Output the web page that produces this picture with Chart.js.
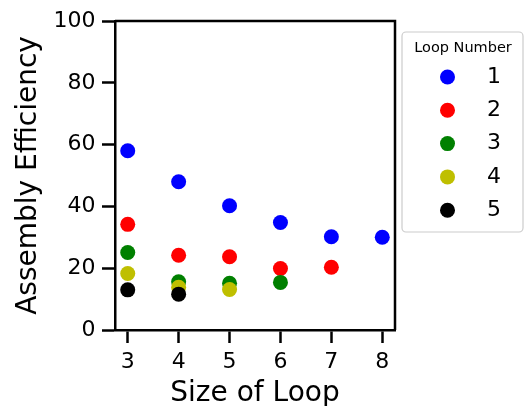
<!DOCTYPE html>
<html lang="en">
<head>
    <meta charset="UTF-8">
    <title>Assembly Efficiency vs Size of Loop</title>
    <script src="https://cdn.jsdelivr.net/npm/chart.js"></script>
    <style>
        body {
            margin: 0;
            background: white;
        }
        canvas {
            display: block;
        }
    </style>
</head>
<body>
    <canvas id="loopChart" width="525" height="406"></canvas>

    <script>
        // values
        const loopSizes = [3, 4, 5, 6, 7, 8];
        const loopNames = ['1', '2', '3', '4', '5'];
        const loopColors = ['#0000ff', '#ff0000', '#008000', '#bfbf00', '#000000'];
        const loop1 = [58.0, 48.0, 40.2, 34.8, 30.2, 30.0];
        const loop2 = [34.2, 24.2, 23.7, 19.9, 20.3];
        const loop3 = [25.1, 15.6, 15.1, 15.4];
        const loop4 = [18.3, 13.8, 13.1];
        const loop5 = [13.0, 11.6];
        const xTicks = [3, 4, 5, 6, 7, 8];
        const yTicks = [0, 20, 40, 60, 80, 100];

        const allLoops = [loop1, loop2, loop3, loop4, loop5];
        const font = 'DejaVu Sans';

        // top and right spines (chart.js only draws the axis borders)
        const frame = {
            id: 'frame',
            beforeDatasetsDraw(chart) {
                const { ctx, chartArea: a } = chart;
                ctx.save();
                ctx.strokeStyle = '#000';
                ctx.lineWidth = 2.5;
                ctx.beginPath();
                ctx.moveTo(a.left, a.top);
                ctx.lineTo(a.right, a.top);
                ctx.lineTo(a.right, a.bottom);
                ctx.stroke();
                ctx.restore();
            }
        };

        // matplotlib style legend box on the right
        const boxLegend = {
            id: 'boxLegend',
            afterDraw(chart) {
                const ctx = chart.ctx;
                const x0 = 402, y0 = 32, w = 121, h = 200;
                ctx.save();
                ctx.beginPath();
                ctx.roundRect(x0, y0, w, h, 4);
                ctx.fillStyle = 'rgba(255,255,255,0.8)';
                ctx.fill();
                ctx.strokeStyle = '#cccccc';
                ctx.lineWidth = 1.2;
                ctx.stroke();

                ctx.fillStyle = '#000';
                ctx.textBaseline = 'middle';
                ctx.textAlign = 'center';
                ctx.font = '14.5px "' + font + '"';
                ctx.fillText('Loop Number', 463, 48);

                chart.data.datasets.forEach((ds, i) => {
                    const cy = 77 + i * 33.3;
                    ctx.beginPath();
                    ctx.arc(447.5, cy, 7.5, 0, Math.PI * 2);
                    ctx.fillStyle = ds.backgroundColor;
                    ctx.fill();
                    ctx.fillStyle = '#000';
                    ctx.textAlign = 'left';
                    ctx.font = '22px "' + font + '"';
                    ctx.fillText(ds.label, 487, cy);
                });
                ctx.restore();
            }
        };

        const datasets = allLoops.map((vals, i) => ({
            label: loopNames[i],
            data: vals.map((v, j) => ({ x: loopSizes[j], y: v })),
            backgroundColor: loopColors[i],
            borderWidth: 0,
            pointRadius: 7.5,
            pointHoverRadius: 7.5,
            order: allLoops.length - i
        }));

        const tickGrid = {
            display: true,
            drawOnChartArea: false,
            drawTicks: true,
            tickLength: 13,
            tickWidth: 2.5,
            tickColor: '#000'
        };

        new Chart(document.getElementById('loopChart'), {
            type: 'scatter',
            data: { datasets },
            options: {
                responsive: false,
                animation: false,
                devicePixelRatio: 1,
                layout: { padding: { top: 21, right: 130, left: 0, bottom: 0 } },
                plugins: {
                    legend: { display: false },
                    tooltip: { enabled: false }
                },
                scales: {
                    x: {
                        type: 'linear',
                        min: 2.75,
                        max: 8.25,
                        afterBuildTicks: s => { s.ticks = xTicks.map(v => ({ value: v })); },
                        afterFit: s => { s.height = 76; },
                        grid: tickGrid,
                        border: { display: true, color: '#000', width: 2.5 },
                        ticks: { color: '#000', padding: 6, font: { family: font, size: 22 } },
                        title: {
                            display: true,
                            text: 'Size of Loop',
                            color: '#000',
                            padding: 0,
                            font: { family: font, size: 28, lineHeight: 0.9 }
                        }
                    },
                    y: {
                        min: 0,
                        max: 100,
                        afterBuildTicks: s => { s.ticks = yTicks.map(v => ({ value: v })); },
                        afterFit: s => { s.width = 115; },
                        grid: tickGrid,
                        border: { display: true, color: '#000', width: 2.5 },
                        ticks: { color: '#000', padding: 6.5, font: { family: font, size: 22 } },
                        title: {
                            display: true,
                            text: 'Assembly Efficiency',
                            color: '#000',
                            padding: { top: 15, bottom: 0 },
                            font: { family: font, size: 28, lineHeight: 1 }
                        }
                    }
                }
            },
            plugins: [frame, boxLegend]
        });
    </script>
</body>
</html>
